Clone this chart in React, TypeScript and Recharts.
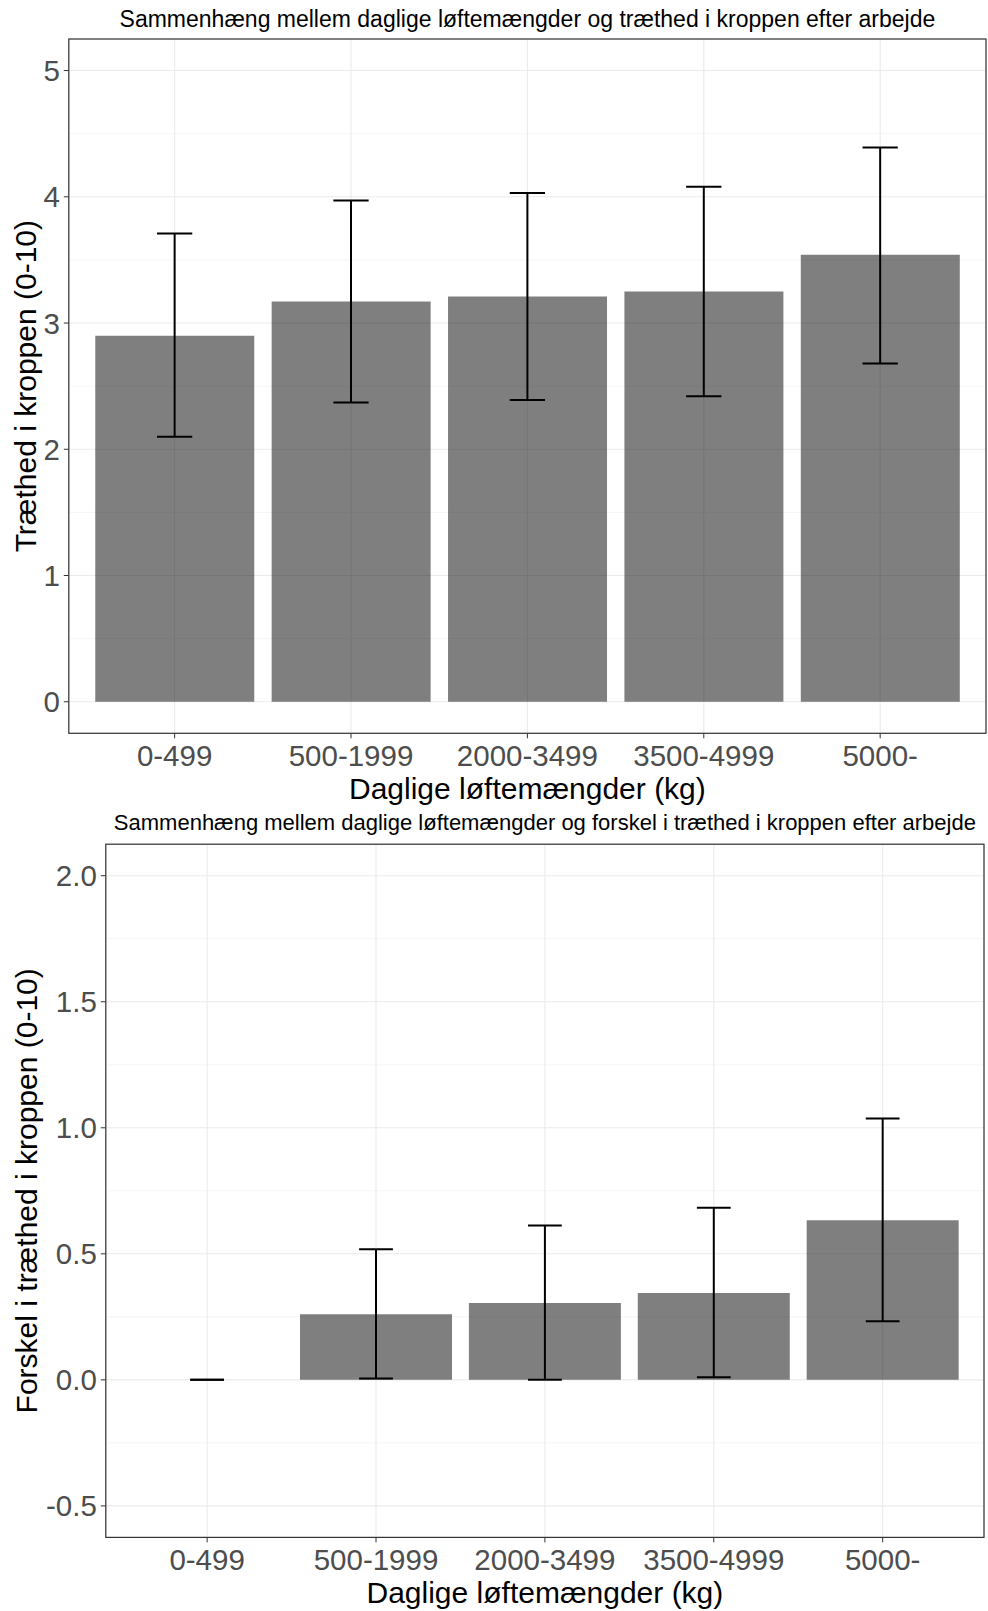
import React from 'react';
import {
  ComposedChart,
  Bar,
  Scatter,
  XAxis,
  YAxis,
  CartesianGrid,
  ErrorBar,
} from 'recharts';

// ---------- data ----------
const categories = ['0-499', '500-1999', '2000-3499', '3500-4999', '5000-'];

const fatigueMean = [2.9, 3.17, 3.21, 3.25, 3.54];
const fatigueLow = [2.1, 2.37, 2.39, 2.42, 2.68];
const fatigueHigh = [3.71, 3.97, 4.03, 4.08, 4.39];

const diffMean = [0, 0.26, 0.305, 0.345, 0.633];
const diffLow = [0, 0.005, 0.0, 0.01, 0.232];
const diffHigh = [0, 0.518, 0.612, 0.683, 1.037];

const topMajorTicks = [0, 1, 2, 3, 4, 5];
const topMinorTicks = [0.5, 1.5, 2.5, 3.5, 4.5];
const bottomMajorTicks = [-0.5, 0, 0.5, 1, 1.5, 2];
const bottomMinorTicks = [-0.25, 0.25, 0.75, 1.25, 1.75];

const topTitle = 'Sammenhæng mellem daglige løftemængder og træthed i kroppen efter arbejde';
const bottomTitle =
  'Sammenhæng mellem daglige løftemængder og forskel i træthed i kroppen efter arbejde';
const xTitle = 'Daglige løftemængder (kg)';
const topYTitle = 'Træthed i kroppen (0-10)';
const bottomYTitle = 'Forskel i træthed i kroppen (0-10)';

const topRows = categories.map((cat, i) => ({
  cat,
  mean: fatigueMean[i],
  err: [fatigueMean[i] - fatigueLow[i], fatigueHigh[i] - fatigueMean[i]],
}));
const bottomRows = categories.map((cat, i) => ({
  cat,
  mean: diffMean[i],
  err: [diffMean[i] - diffLow[i], diffHigh[i] - diffMean[i]],
}));

// ---------- layout ----------
const FONT = '"Liberation Sans", Arial, Helvetica, sans-serif';
const W = 988;

const T = { top: 0, h: 800, pl: 68.8, pr: 986, pt: 39, pb: 733.3 };
const B = { top: 800, h: 811, pl: 105.8, pr: 984, pt: 44.2, pb: 737.4 };

const tickStyle = { fontSize: 29.5, fill: '#4D4D4D', fontFamily: FONT };

const NoDot = () => <g />;

function Panel({
  rows,
  cfg,
  domain,
  major,
  minor,
  fmt,
}: {
  rows: any[];
  cfg: typeof T;
  domain: [number, number];
  major: number[];
  minor: number[];
  fmt: (v: number) => string;
}) {
  const plotW = cfg.pr - cfg.pl;
  const band = plotW / 5.2;
  const pad = band * 0.1;
  return (
    <div style={{ position: 'absolute', left: 0, top: cfg.top }}>
      <ComposedChart
        width={W}
        height={cfg.h}
        data={rows}
        margin={{ top: cfg.pt, right: W - cfg.pr, left: 0, bottom: 0 }}
        barCategoryGap="5%"
      >
        <CartesianGrid
          stroke="#F0F0F0"
          strokeWidth={0.7}
          vertical={false}
          horizontalValues={minor}
        />
        <CartesianGrid stroke="#EBEBEB" strokeWidth={1.1} />
        <XAxis
          dataKey="cat"
          interval={0}
          padding={{ left: pad, right: pad }}
          height={cfg.h - cfg.pb}
          axisLine={false}
          tickLine={{ stroke: '#333333', strokeWidth: 1 }}
          tickSize={5}
          tickMargin={7}
          tick={tickStyle}
        />
        <YAxis
          type="number"
          domain={domain}
          ticks={major}
          allowDataOverflow
          width={cfg.pl}
          axisLine={false}
          tickLine={{ stroke: '#333333', strokeWidth: 1 }}
          tickSize={5}
          tickMargin={4}
          tick={tickStyle}
          tickFormatter={fmt}
        />
        <Bar dataKey="mean" fill="#000000" fillOpacity={0.5} isAnimationActive={false} />
        <Scatter dataKey="mean" shape={NoDot} isAnimationActive={false}>
          <ErrorBar
            dataKey="err"
            direction="y"
            width={band * 0.1}
            stroke="#000000"
            strokeWidth={2}
            isAnimationActive={false}
          />
        </Scatter>
      </ComposedChart>
    </div>
  );
}

export default function App() {
  return (
    <div
      style={{
        position: 'absolute',
        left: 0,
        top: 0,
        width: W,
        height: 1611,
        background: '#ffffff',
        fontFamily: FONT,
      }}
    >
      <Panel
        rows={topRows}
        cfg={T}
        domain={[-0.25, 5.25]}
        major={topMajorTicks}
        minor={topMinorTicks}
        fmt={(v) => String(v)}
      />
      <Panel
        rows={bottomRows}
        cfg={B}
        domain={[-0.625, 2.125]}
        major={bottomMajorTicks}
        minor={bottomMinorTicks}
        fmt={(v) => v.toFixed(1)}
      />
      <svg
        width={W}
        height={1611}
        style={{ position: 'absolute', left: 0, top: 0, pointerEvents: 'none' }}
        fontFamily={FONT}
      >
        <rect
          x={T.pl}
          y={T.pt}
          width={T.pr - T.pl}
          height={T.pb - T.pt}
          fill="none"
          stroke="#333333"
          strokeWidth={1.2}
        />
        <rect
          x={B.pl}
          y={B.top + B.pt}
          width={B.pr - B.pl}
          height={B.pb - B.pt}
          fill="none"
          stroke="#333333"
          strokeWidth={1.2}
        />
        <text x={(T.pl + T.pr) / 2} y={27} textAnchor="middle" fontSize={23} fill="#000">
          {topTitle}
        </text>
        <text x={(B.pl + B.pr) / 2} y={830} textAnchor="middle" fontSize={22} fill="#000">
          {bottomTitle}
        </text>
        <text x={(T.pl + T.pr) / 2} y={799} textAnchor="middle" fontSize={30} fill="#000">
          {xTitle}
        </text>
        <text x={(B.pl + B.pr) / 2} y={1603} textAnchor="middle" fontSize={30} fill="#000">
          {xTitle}
        </text>
        <text
          transform={`translate(35.5, ${(T.pt + T.pb) / 2}) rotate(-90)`}
          textAnchor="middle"
          fontSize={30}
          fill="#000"
        >
          {topYTitle}
        </text>
        <text
          transform={`translate(37, ${B.top + (B.pt + B.pb) / 2}) rotate(-90)`}
          textAnchor="middle"
          fontSize={30}
          fill="#000"
        >
          {bottomYTitle}
        </text>
      </svg>
    </div>
  );
}
